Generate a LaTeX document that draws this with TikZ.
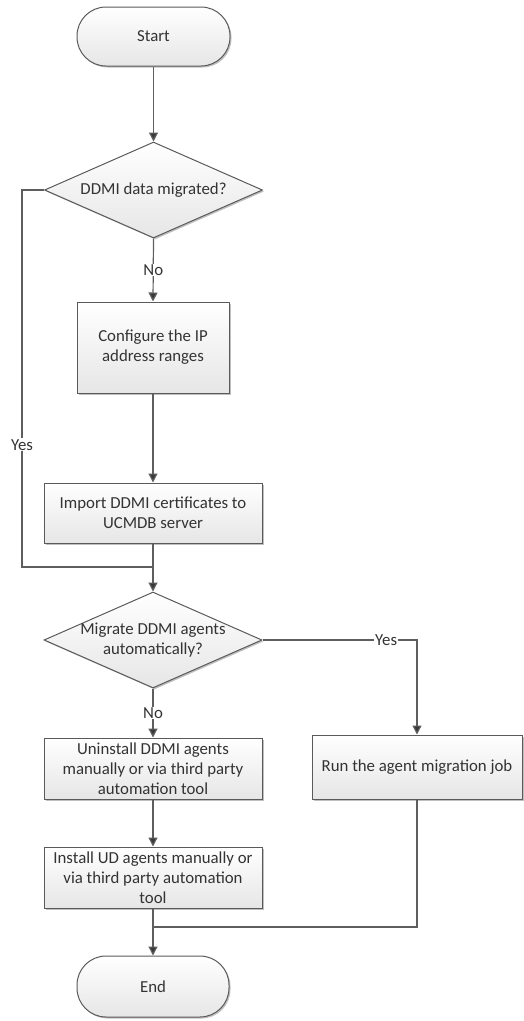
\documentclass[tikz,border=0pt]{standalone}
\usepackage{fontspec}
\setmainfont{Carlito}
\usetikzlibrary{shapes.geometric,arrows.meta,shadows}
\definecolor{linec}{HTML}{5E5E5E}
\definecolor{tipc}{HTML}{3A3A3A}
\definecolor{boxb}{HTML}{5A5A5A}
\definecolor{fillbot}{HTML}{E6E6E6}
\definecolor{txtc}{HTML}{333333}
\begin{document}
\begin{tikzpicture}[x=1pt,y=-1pt,
  every node/.style={font=\fontsize{16.8}{20}\selectfont, text=txtc},
  shapebase/.style={draw=boxb, line width=1pt, top color=white, bottom color=fillbot,
    drop shadow={shadow xshift=1.5pt, shadow yshift=-1.5pt, opacity=0.25, fill=black},
    inner sep=0pt, align=center},
  procbox/.style={shapebase, rectangle},
  termbox/.style={shapebase, rectangle, rounded corners=29pt},
  decbox/.style={shapebase, diamond},
  dectext/.style={align=center, inner sep=0pt},
  line/.style={draw=linec, line width=1.2pt},
  conn/.style={line, -{Triangle[length=9pt,width=9pt,fill=tipc]}},
  lbl/.style={fill=white, inner sep=1pt}
]
\useasboundingbox (0,0) rectangle (524,1021);

\node[termbox, minimum width=153pt, minimum height=59pt] (start) at (153.5,36.5) {Start};
\node[decbox, minimum width=218pt, minimum height=96pt] (d1) at (153.5,190) {};
\node[dectext] (d1t) at (d1.center) {DDMI data migrated?};
\node[procbox, minimum width=152pt, minimum height=91pt] (cfg) at (153,347.5) {Configure the IP\\address ranges};
\node[procbox, minimum width=218pt, minimum height=60pt] (imp) at (153,513) {Import DDMI certificates to\\UCMDB server};
\node[decbox, minimum width=218pt, minimum height=96pt] (d2) at (153,640) {};
\node[dectext] (d2t) at (d2.center) {Migrate DDMI agents\\automatically?};
\node[procbox, minimum width=218pt, minimum height=61pt] (uni) at (153,768.5) {Uninstall DDMI agents\\manually or via third party\\automation tool};
\node[procbox, minimum width=218pt, minimum height=61pt] (ins) at (153,877.5) {Install UD agents manually or\\via third party automation\\tool};
\node[procbox, minimum width=210pt, minimum height=64pt] (run) at (417,767) {Run the agent migration job};
\node[termbox, minimum width=152pt, minimum height=61pt] (endn) at (153,986.5) {End};

\coordinate (yl1) at (22,190);
\coordinate (yl2) at (22,567);
\coordinate (j1) at (153,567);
\coordinate (yr) at (417,640);
\coordinate (j2) at (153,927);

\draw[conn] (start) -- (d1);
\draw[conn] (d1.south) -- node[lbl]{No} (cfg.north);
\draw[conn] (cfg) -- (imp);
\draw[line] (d1.west) -- (yl1) -- node[lbl,pos=0.676]{Yes} (yl2) -- (j1);
\draw[conn] (imp) -- (d2);
\draw[conn] (d2.south) -- node[lbl]{No} (uni.north);
\draw[conn] (d2.east) -- node[lbl,pos=0.8]{Yes} (yr) -- (run.north);
\draw[conn] (uni) -- (ins);
\draw[conn] (ins) -- (endn);
\draw[line] (run.south) |- (j2);
\end{tikzpicture}
\end{document}
